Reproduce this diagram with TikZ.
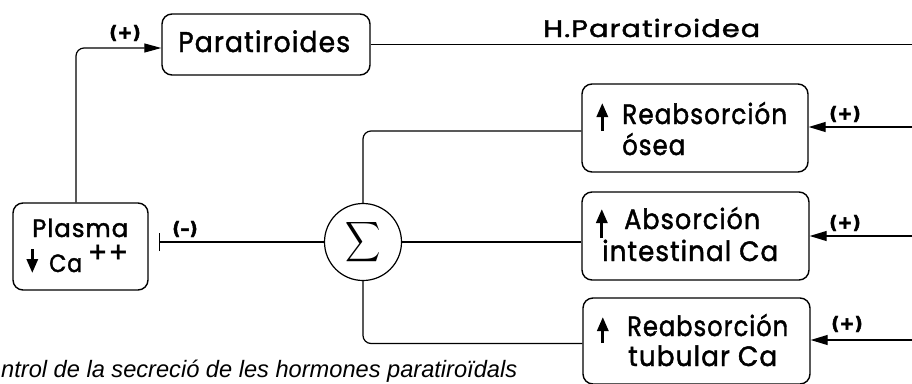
\documentclass[tikz,border=0pt]{standalone}
\usepackage{fontspec}
\usepackage{graphicx}
\setmainfont{Poppins}
\newfontfamily\lettering[LetterSpace=4, FakeBold=1.6]{Poppins}
\newfontfamily\signfont[FakeBold=2.5]{DejaVu Sans}
\newfontfamily\capfont{Liberation Sans}
\usetikzlibrary{arrows.meta,calc}
\newcommand{\fitw}[2]{\resizebox{#1}{\height}{#2}}
\newcommand{\sgn}[1]{{\signfont\bfseries\fontsize{18}{21}\selectfont #1}}
\tikzset{
  box/.style={draw, line width=1.4pt, rounded corners=10pt, inner sep=0pt},
  conn/.style={line width=1.2pt},
  txt/.style={anchor=base west, inner sep=0pt, font=\lettering\fontsize{28}{32}\selectfont},
  smalltxt/.style={anchor=base west, inner sep=0pt, font=\lettering\fontsize{25}{30}\selectfont},
  signnode/.style={inner sep=0pt},
  inarrow/.style={conn, -{Triangle[length=17pt,width=10pt]}},
  uparrow/.style={line width=3pt, -{Triangle[length=14pt,width=11pt]}}
}
\begin{document}
\begin{tikzpicture}[x=1pt,y=-1pt]
\fill[white] (0,0) rectangle (912,383);
\useasboundingbox (0,0) rectangle (912,383);
\coordinate (rightedge) at (912,0);

% boxes
\node[box, minimum width=208pt, minimum height=61pt] (para) at (266,44.5) {};
\node[box, minimum width=135pt, minimum height=87pt] (plasma) at (80.5,246.5) {};
\node[box, minimum width=226pt, minimum height=88pt] (osea) at (695,128) {};
\node[box, minimum width=227pt, minimum height=88pt] (abs) at (695.5,236) {};
\node[box, minimum width=227pt, minimum height=86pt] (tub) at (696.5,341) {};
\node[circle, draw, line width=1.2pt, minimum size=77pt, inner sep=0pt] (sigma) at (363,242)
  {\scalebox{2.45}[2.8]{$\displaystyle\sum$}};

% texts
\node[txt, font=\lettering\fontsize{28.5}{32}\selectfont] (tpara) at (178,52) {\fitw{172pt}{Paratiroides}};
\node[smalltxt, font=\lettering\fontsize{24}{28}\selectfont] (thp) at (543,37) {\fitw{217pt}{H.\hspace{1pt}Paratiroidea}};
\node[txt] (tosea1) at (622,124) {\fitw{165pt}{Reabsorción}};
\node[txt] (tosea2) at (622,155) {\fitw{63pt}{ósea}};
\node[txt] (tabs1) at (624,229) {\fitw{136pt}{Absorción}};
\node[txt] (tabs2) at (602,261) {\fitw{176pt}{intestinal Ca}};
\node[txt] (ttub1) at (627,336) {\fitw{161pt}{Reabsorción}};
\node[txt] (ttub2) at (628,366) {\fitw{149pt}{tubular Ca}};
\node[smalltxt] (tpl1) at (32,237) {\fitw{96pt}{Plasma}};
\node[smalltxt] (tpl2) at (49,272) {\fitw{33pt}{Ca}};
\node[inner sep=0pt, font=\lettering\fontsize{28}{32}\selectfont] (tpl3) at (108,253.5) {\fitw{40pt}{++}};

% arrows inside boxes
\draw[uparrow] ($(osea.west)+(21,3)$) -- ++(0,-28);
\draw[uparrow] ($(abs.west)+(20.5,2)$) -- ++(0,-29);
\draw[uparrow] ($(tub.west)+(20.5,2)$) -- ++(0,-26);
\draw[uparrow] ($(plasma.west)+(20,2.5)$) -- ++(0,24);

% connectors
\coordinate (pl1) at ($(plasma.north)+(-4.5,0)$);
\coordinate (pa1) at ($(para.west)+(0,3.5)$);
\draw[conn, rounded corners=8pt, -{Triangle[length=17pt,width=9pt]}] (pl1) |- (pa1);
\draw[conn] (para.east) -- (para.east -| rightedge);
\coordinate (inh) at (159,242);
\draw[conn, -{Bar[width=18pt,line width=1.4pt]}] (sigma.west) -- (inh);
\draw[conn, rounded corners=8pt] (sigma.north) |- ($(osea.west)+(0,3)$);
\draw[conn] (sigma.east) -- (sigma.east -| abs.west);
\draw[conn, rounded corners=8pt] (sigma.south) |- ($(tub.west)+(0,2.5)$);
\draw[inarrow] ($(osea.east -| rightedge)+(0,-1)$) -- ($(osea.east)+(0,-1)$);
\draw[inarrow] (abs.east -| rightedge) -- (abs.east);
\draw[inarrow] ($(tub.east -| rightedge)+(0,-1)$) -- ($(tub.east)+(0,-1)$);

% signs
\node[signnode] (s1) at (125,33) {\sgn{(+)}};
\node[signnode] (s2) at (185,229) {\sgn{(–)}};
\node[signnode] (s3) at (845,114) {\sgn{(+)}};
\node[signnode] (s4) at (845,223) {\sgn{(+)}};
\node[signnode] (s5) at (847,324) {\sgn{(+)}};

% caption
\node[anchor=base west, inner sep=0pt, font=\capfont\itshape\fontsize{23.7}{28}\selectfont] (cap) at (1,377)
  {\fitw{516pt}{ntrol de la secreció de les hormones paratiroïdals}};
\end{tikzpicture}
\end{document}
